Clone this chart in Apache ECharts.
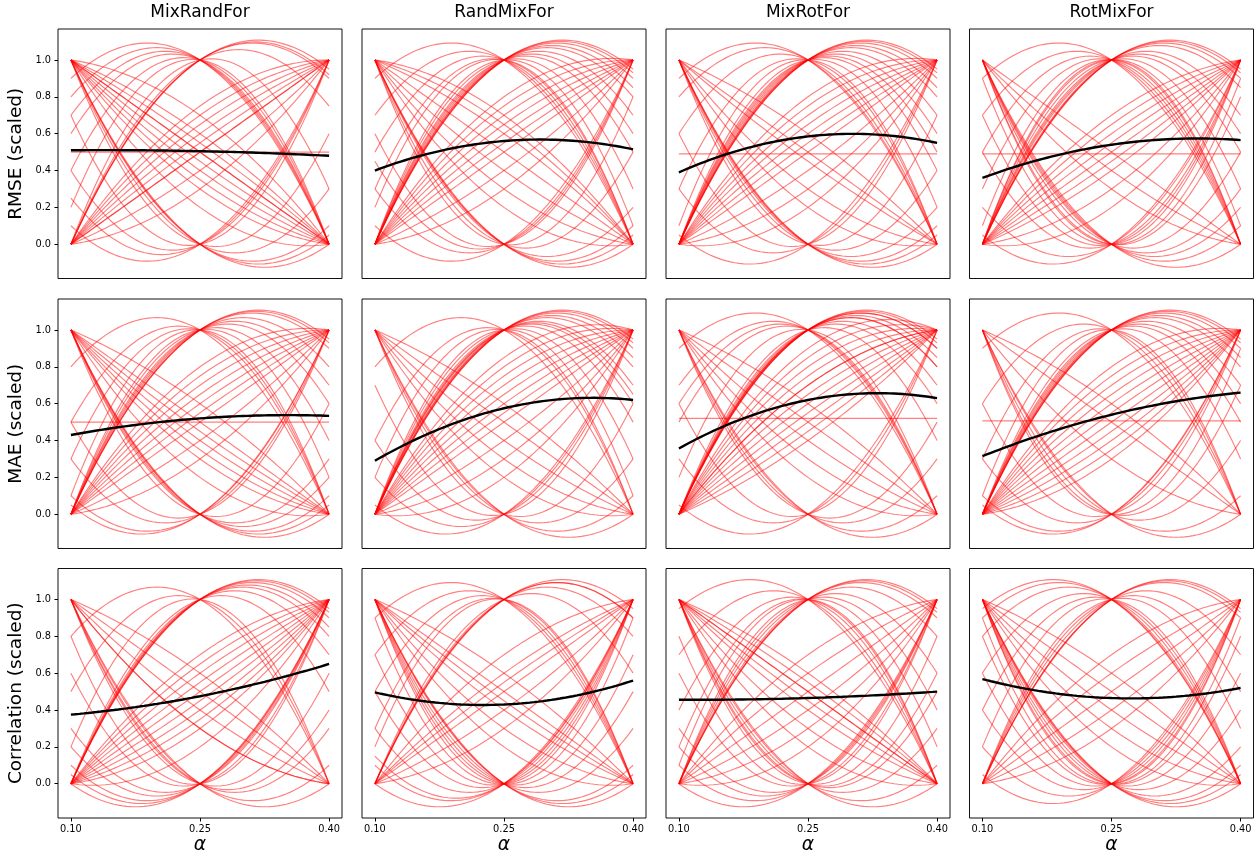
<!DOCTYPE html>
<html><head><meta charset="utf-8">
<script src="https://cdn.jsdelivr.net/npm/echarts@6/dist/echarts.min.js"></script>
<style>html,body{margin:0;padding:0;background:#fff}#c{width:1260px;height:858px}</style>
</head><body><div id="c"></div>
<script>
// ---------- data ----------
const alphas = [0.10, 0.25, 0.40];
const methods = ['MixRandFor', 'RandMixFor', 'MixRotFor', 'RotMixFor'];
const metrics = ['RMSE (scaled)', 'MAE (scaled)', 'Correlation (scaled)'];
const yTicks = [0, 0.2, 0.4, 0.6, 0.8, 1.0];

// one row per dataset: scaled value at alpha = 0.10, 0.25, 0.40
const rmse_MixRandFor = [
  [1,.5,0],[1,.45,0],[1,.6,0],[1,.3,0],[1,.35,0],[1,.2,0],[1,.55,0],[1,.7,0],[1,.4,0],[1,.5,0],
  [0,.5,1],[0,.6,1],[0,.7,1],[0,.75,1],[0,.5,1],[0,.4,1],[0,.65,1],[0,.55,1],[0,.3,1],
  [1,0,0],[1,0,.05],[1,0,.1],[1,0,.3],[1,0,.6],
  [.1,0,1],[.4,0,1],[.7,0,1],[.25,0,1],
  [0,1,.95],[0,1,.9],[0,1,.92],[0,1,.3],[0,1,.75],
  [.9,1,0],[.7,1,0],[.4,1,0],[.2,1,0],[.6,1,0],[.8,1,0],
  [.5,.5,.5]];
const rmse_RandMixFor = [
  [1,.6,0],[1,.5,0],[1,.4,0],[1,.3,0],[1,.7,0],[1,.65,0],[1,.2,0],
  [0,.6,1],[0,.7,1],[0,.5,1],[0,.8,1],[0,.4,1],[0,.3,1],[0,.55,1],[0,.65,1],[0,.75,1],
  [1,0,0],[1,0,.05],[1,0,.1],[1,0,.2],[1,0,.5],[1,0,.8],
  [.1,0,1],[.3,0,1],[.6,0,1],[.45,0,1],
  [0,1,.95],[0,1,.93],[0,1,.9],[0,1,.85],[0,1,.7],[0,1,.6],[0,1,.5],[0,1,.3],[0,1,.1],[0,1,.8],
  [.9,1,0],[.5,1,0],[.3,1,0],[.2,1,0],[.7,1,0]];
const rmse_MixRotFor = [
  [1,.5,0],[1,.3,0],[1,.6,0],[1,.2,0],[1,.45,0],
  [0,.6,1],[0,.7,1],[0,.75,1],[0,.5,1],[0,.8,1],[0,.4,1],[0,.3,1],[0,.65,1],[0,.55,1],[0,.2,1],
  [1,0,0],[1,0,.05],[1,0,.1],[1,0,.2],[1,0,.4],[1,0,.7],
  [.05,0,1],[.3,0,1],[.6,0,1],
  [0,1,.95],[0,1,.93],[0,1,.9],[0,1,.8],[0,1,.7],[0,1,.6],[0,1,.4],[0,1,.2],[0,1,.85],[0,1,.5],
  [.9,1,0],[.6,1,0],[.3,1,0],[.1,1,0],[.8,1,0],
  [.49,.49,.49]];
const rmse_RotMixFor = [
  [1,.5,0],[1,.4,0],[1,.3,0],
  [0,.5,1],[0,.6,1],[0,.7,1],[0,.4,1],[0,.3,1],[0,.55,1],[0,.65,1],[0,.45,1],[0,.2,1],
  [1,0,0],[1,0,.1],[1,0,.3],[1,0,.5],[1,0,.8],[1,0,.9],[1,0,.2],
  [.05,0,1],[.2,0,1],[.5,0,1],[.7,0,1],[.9,0,1],
  [0,1,.95],[0,1,.93],[0,1,.85],[0,1,.7],[0,1,.5],[0,1,.3],[0,1,.1],[0,1,0],[0,1,.6],[0,1,.9],
  [.9,1,0],[.7,1,0],[.5,1,0],[.3,1,0],[.1,1,0],
  [.49,.49,.49]];
const mae_MixRandFor = [
  [1,.5,0],[1,.4,0],[1,.3,0],[1,.6,0],[1,.2,0],[1,.45,0],[1,.35,0],
  [0,.5,1],[0,.6,1],[0,.7,1],[0,.4,1],[0,.55,1],[0,.65,1],[0,.3,1],[0,.75,1],[0,.8,1],
  [1,0,0],[1,0,.05],[1,0,.1],[1,0,.3],[1,0,.6],[1,0,.2],
  [.1,0,1],[.3,0,1],[.5,0,1],[.05,0,1],
  [0,1,.95],[0,1,.93],[0,1,.9],[0,1,.8],[0,1,.6],[0,1,.4],[0,1,.2],[0,1,.7],
  [.8,1,0],[.5,1,0],[.3,1,0],[.1,1,0],
  [.5,.5,.5]];
const mae_RandMixFor = [
  [1,.5,0],[1,.4,0],[1,.3,0],[1,.6,0],[1,.2,0],
  [0,.5,1],[0,.6,1],[0,.7,1],[0,.8,1],[0,.4,1],[0,.3,1],[0,.55,1],[0,.65,1],[0,.75,1],[0,.2,1],[0,.85,1],
  [1,0,0],[1,0,.1],[1,0,.3],[1,0,.6],
  [.05,0,1],[.2,0,1],[.4,0,1],[.7,0,1],
  [0,1,.95],[0,1,.93],[0,1,.9],[0,1,.85],[0,1,.8],[0,1,.7],[0,1,.6],[0,1,.5],[0,1,.3],[0,1,.1],[0,1,.65],
  [.8,1,0],[.4,1,0],[.2,1,0]];
const mae_MixRotFor = [
  [1,.5,0],[1,.4,0],[1,.3,0],[1,.6,0],[1,.2,0],
  [0,.5,1],[0,.6,1],[0,.7,1],[0,.8,1],[0,.75,1],[0,.65,1],[0,.55,1],[0,.45,1],[0,.85,1],[0,.9,1],[0,.4,1],[0,.7,1],
  [1,0,0],[1,0,.1],[1,0,.3],[1,0,.5],
  [.05,0,1],[.3,0,1],[.6,0,1],
  [0,1,.95],[0,1,.93],[0,1,.9],[0,1,.8],[0,1,.7],[0,1,.6],[0,1,.4],[0,1,.8],[0,1,.9],[0,1,.85],
  [.9,1,0],[.7,1,0],[.5,1,0],[.2,1,0],[.6,1,0],
  [.52,.52,.52]];
const mae_RotMixFor = [
  [1,.5,0],[1,.3,0],[1,.6,0],
  [0,.5,1],[0,.6,1],[0,.7,1],[0,.4,1],[0,.55,1],[0,.65,1],[0,.45,1],[0,.75,1],[0,.35,1],[0,.8,1],[0,.3,1],
  [1,0,0],[1,0,.1],[1,0,.4],[1,0,.7],[1,0,.9],
  [.1,0,1],[.3,0,1],[.6,0,1],[.05,0,1],
  [0,1,.95],[0,1,.93],[0,1,.9],[0,1,.85],[0,1,.7],[0,1,.5],[0,1,.3],[0,1,.8],[0,1,.6],
  [.9,1,0],[.6,1,0],[.3,1,0],[.1,1,0],
  [.507,.507,.507]];
const corr_MixRandFor = [
  [1,.5,0],[1,.4,0],[1,.3,0],[1,.6,0],[1,.3,0],
  [0,.5,1],[0,.6,1],[0,.7,1],[0,.4,1],[0,.3,1],[0,.55,1],[0,.65,1],[0,.45,1],[0,.2,1],[0,.35,1],
  [1,0,0],[1,0,.1],[1,0,.3],[1,0,.6],[1,0,.4],
  [0,0,1],[.05,0,1],[.1,0,1],[.3,0,1],[.6,0,1],[.8,0,1],[.2,0,1],
  [0,1,.95],[0,1,.93],[0,1,.9],[0,1,.85],[0,1,.7],[0,1,.5],[0,1,.8],
  [.8,1,0],[.5,1,0],[.2,1,0]];
const corr_RandMixFor = [
  [1,.5,0],[1,.4,0],[1,.3,0],[1,.6,0],[1,.2,0],[1,.45,0],
  [0,.5,1],[0,.6,1],[0,.4,1],[0,.3,1],[0,.7,1],[0,.55,1],
  [1,0,0],[1,0,.1],[1,0,.3],[1,0,.5],[1,0,.7],[1,0,.9],[1,0,.05],
  [0,0,1],[.1,0,1],[.3,0,1],[.5,0,1],[.7,0,1],[.9,0,1],[.15,0,1],
  [0,1,.95],[0,1,.9],[0,1,.8],[0,1,.6],[0,1,.9],
  [.3,1,0],[.9,1,0],[.7,1,0],[.5,1,0],[.2,1,0]];
const corr_MixRotFor = [
  [1,.5,0],[1,.5,0],[1,.45,0],[1,.4,0],[1,.3,0],[1,.6,0],[1,.55,0],[1,.2,0],
  [0,.5,1],[0,.6,1],[0,.4,1],[0,.3,1],[0,.7,1],[0,.2,1],
  [1,0,0],[1,0,.1],[1,0,.3],[1,0,.6],[1,0,.8],[1,0,.5],
  [.1,0,1],[.3,0,1],[.6,0,1],[.8,0,1],[.2,0,1],[0,0,1],
  [0,1,.95],[0,1,.9],[0,1,.8],[0,1,.6],[0,1,.4],[0,1,.2],[0,1,.93],
  [.95,1,0],[.7,1,0],[.4,1,0],[.2,1,0],[.1,1,0]];
const corr_RotMixFor = [
  [1,.5,0],[1,.4,0],[1,.3,0],[1,.6,0],[1,.2,0],
  [0,.5,1],[0,.6,1],[0,.4,1],[0,.3,1],[0,.7,1],
  [1,0,0],[1,0,.1],[1,0,.2],[1,0,.4],[1,0,.6],[1,0,.8],[1,0,.9],[1,0,.05],
  [.05,0,1],[.2,0,1],[.4,0,1],[.6,0,1],[.8,0,1],[.9,0,1],
  [0,1,.95],[0,1,.9],[0,1,.7],[0,1,.5],[0,1,.3],[0,1,.93],
  [.9,1,0],[.8,1,0],[.6,1,0],[.4,1,0],[.2,1,0],[.95,1,0]];

// black average curves, per method (value at alpha = 0.10, 0.25, 0.40)
const meanRMSE = [[0.51,0.505,0.48],[0.40,0.56,0.515],[0.39,0.585,0.55],[0.36,0.54,0.565]];
const meanMAE  = [[0.43,0.52,0.534],[0.29,0.575,0.62],[0.357,0.62,0.63],[0.315,0.54,0.66]];
const meanCorr = [[0.375,0.475,0.65],[0.496,0.43,0.56],[0.456,0.465,0.50],[0.568,0.465,0.52]];

// ---------- layout ----------
const panels = [
  [rmse_MixRandFor, rmse_RandMixFor, rmse_MixRotFor, rmse_RotMixFor],
  [mae_MixRandFor, mae_RandMixFor, mae_MixRotFor, mae_RotMixFor],
  [corr_MixRandFor, corr_RandMixFor, corr_MixRotFor, corr_RotMixFor]];
const means = [meanRMSE, meanMAE, meanCorr];
const colLeft = [58, 362, 666, 969.5];
const rowTop = [29, 299, 568.5];
const W = 284, H = 249.5;

// second-order polynomial through the three (alpha, value) points, as drawn in the source figure
function quadFit(v) {
  const pts = [], N = 60;
  for (let i = 0; i <= N; i++) {
    const x = alphas[0] + (alphas[2] - alphas[0]) * i / N;
    const t = (x - alphas[0]) / (alphas[1] - alphas[0]);
    const y = v[0] * (t - 1) * (t - 2) / 2 - v[1] * t * (t - 2) + v[2] * t * (t - 1) / 2;
    pts.push([x, y]);
  }
  return pts;
}

const FONT = 'DejaVu Sans';
const grids = [], xAxes = [], yAxes = [], series = [], titles = [];
for (let r = 0; r < 3; r++) {
  for (let c = 0; c < 4; c++) {
    const g = r * 4 + c;
    grids.push({left: colLeft[c], top: rowTop[r], width: W, height: H, show: true,
      borderColor: '#111', borderWidth: 1, backgroundColor: 'transparent', outerBoundsMode: 'none'});
    xAxes.push({gridIndex: g, type: 'value', min: 0.085, max: 0.415,
      splitLine: {show: false}, axisLine: {show: false, onZero: false},
      axisTick: {show: r === 2, customValues: alphas, length: 3.5, lineStyle: {color: '#000', width: 1}},
      axisLabel: {show: r === 2, customValues: alphas, formatter: v => v.toFixed(2),
        fontSize: 9.8, color: '#000', margin: 6, fontFamily: FONT},
      name: r === 2 ? 'α' : '', nameLocation: 'middle', nameGap: 18,
      nameTextStyle: {fontSize: 18.7, fontStyle: 'italic', fontFamily: FONT, color: '#000'}});
    yAxes.push({gridIndex: g, type: 'value', min: -0.186, max: 1.168,
      splitLine: {show: false}, axisLine: {show: false, onZero: false},
      axisTick: {show: c === 0, customValues: yTicks, length: 3.5, lineStyle: {color: '#000', width: 1}},
      axisLabel: {show: c === 0, customValues: yTicks, formatter: v => v.toFixed(1),
        fontSize: 9.8, color: '#000', margin: 7, fontFamily: FONT},
      name: c === 0 ? metrics[r] : '', nameLocation: 'middle', nameGap: 32,
      nameTextStyle: {fontSize: 18.5, fontFamily: FONT, color: '#000'}});
    panels[r][c].forEach(v => {
      series.push({type: 'line', xAxisIndex: g, yAxisIndex: g, data: quadFit(v),
        symbol: 'none', showSymbol: false, silent: true, animation: false, z: 2,
        lineStyle: {color: 'rgba(255,0,0,0.5)', width: 1.15}});
    });
    series.push({type: 'line', xAxisIndex: g, yAxisIndex: g, data: quadFit(means[r][c]),
      symbol: 'none', showSymbol: false, silent: true, animation: false, z: 3,
      lineStyle: {color: '#000', width: 2.4}});
  }
}
for (let c = 0; c < 4; c++) {
  titles.push({text: methods[c], left: colLeft[c] + W / 2, top: 4, textAlign: 'center', padding: 0,
    textStyle: {fontSize: 17, fontWeight: 'normal', fontFamily: FONT, color: '#000'}});
}

const chart = echarts.init(document.getElementById('c'), null, {renderer: 'canvas'});
chart.setOption({animation: false, backgroundColor: '#fff', title: titles,
  grid: grids, xAxis: xAxes, yAxis: yAxes, series: series});
</script></body></html>
